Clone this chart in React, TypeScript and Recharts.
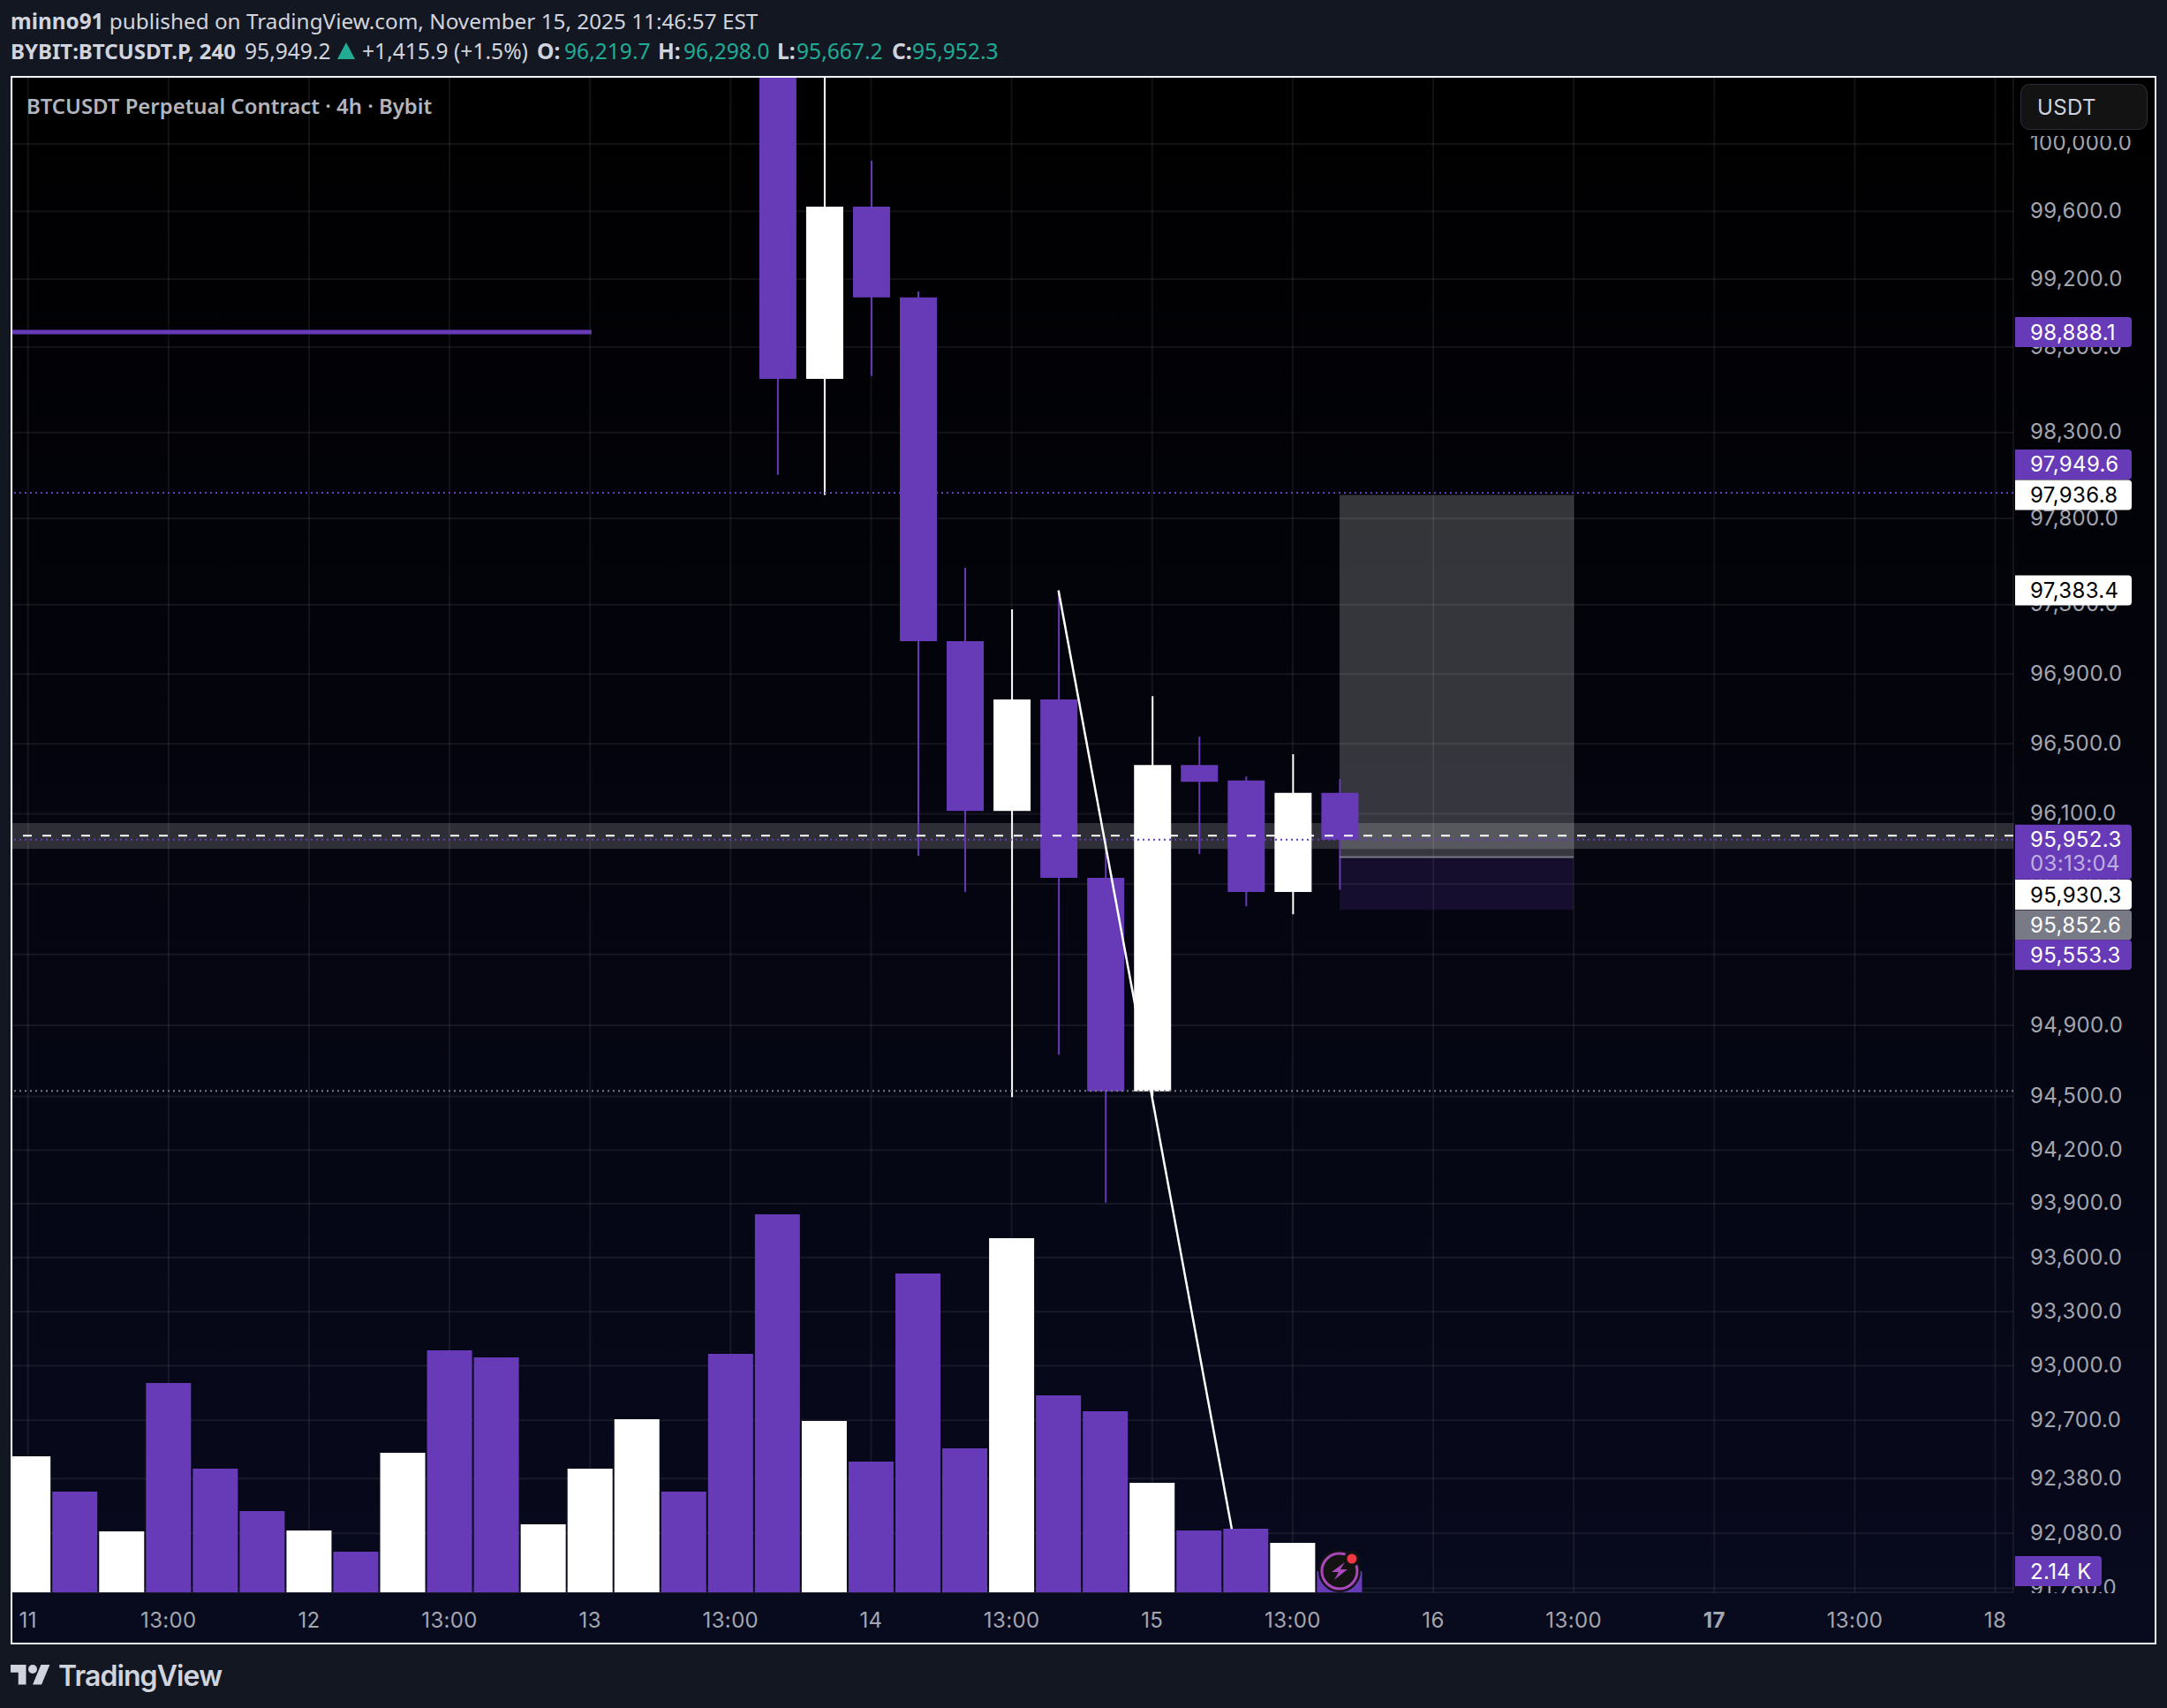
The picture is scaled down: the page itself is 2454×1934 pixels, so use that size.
import React from 'react';
import { ComposedChart, Bar, Cell, XAxis, YAxis, CartesianGrid, ReferenceLine, ReferenceArea, ReferenceDot } from 'recharts';

// ---- data ----
const volumes = [13.74, 10.17, 6.16, 21.14, 12.49, 8.21, 6.24, 4.10, 14.09, 24.44, 23.73, 6.87, 12.49, 17.48, 10.17, 24.09, 38.18, 17.3, 13.2, 32.2, 14.54, 35.77, 19.9, 18.29, 11.06, 6.24, 6.42, 5.0, 2.14];
const volumeUp = [1, 0, 1, 0, 0, 0, 1, 0, 1, 0, 0, 1, 1, 1, 0, 0, 0, 1, 0, 0, 0, 1, 0, 0, 1, 0, 0, 1, 0];

const firstCandle = 16;
const opens = [101500, 98614, 99628, 99092, 97090, 96116, 96754, 95735, 94529, 96379, 96290, 95654, 96219.7];
const closes = [98614, 99628, 99092, 97090, 96116, 96754, 95735, 94529, 96379, 96283, 95654, 96219.7, 95952.3];
const highs = [102000, 100800, 99900, 99127, 97514, 97274, 97383.4, 95955, 96774, 96541, 96313, 96440, 96298.0];
const lows = [98053, 97936.8, 98631, 95860, 95654, 94497, 94735, 93906, 94500, 95870, 95573, 95528, 95667.2];

const priceTicks = [100000, 99600, 99200, 98800, 98300, 97800, 97300, 96900, 96500, 96100, 95700, 95300, 94900, 94500, 94200, 93900, 93600, 93300, 93000, 92700, 92380, 92080, 91780];
const timeTicks = [0, 3, 6, 9, 12, 15, 18, 21, 24, 27, 30, 33, 36, 39, 42];
const timeLabels = ['11', '13:00', '12', '13:00', '13', '13:00', '14', '13:00', '15', '13:00', '16', '13:00', '17', '13:00', '18'];
const boldTimeLabels = ['17'];

const tagPrices = [98888.1, 97949.6, 97936.8, 97383.4, 95930.3, 95852.6, 95553.3];
const tagFills = ['#673ab7', '#673ab7', '#ffffff', '#ffffff', '#ffffff', '#787b86', '#673ab7'];
const tagInk = ['#ffffff', '#ffffff', '#000000', '#000000', '#000000', '#ffffff', '#ffffff'];
const tagShift = [0, -32, 0, 0, 58, 77, 51];

const lastPrice = 95952.3;
const countdown = '03:13:04';
const lastVolume = 2.14;
const lastVolumeLabel = '2.14 K';
const bandHigh = 96047;
const bandMid = 95975;
const bandLow = 95900;
const lowDotted = 94531;
const resistance = 98888.1;
const resistanceEnd = 12.03;
const entryDotted = 97949.6;
const boxStart = 28;
const boxEnd = 33;
const boxTop = 97936.8;
const boxMid = 95852.6;
const boxBottom = 95553.3;
const diagonal = [{ x: 22, y: 97383.4 }, { x: 25.7, y: 92104 }];

// ---- palette / geometry ----
const PURPLE = '#673ab7';
const WHITE = '#ffffff';
const W = 2454;
const H = 1934;
const X_DOMAIN: [number, number] = [-0.3337, 42.386];
const Y_DOMAIN: [number, number] = [91757.9, 100393.6];
const VOL_DOMAIN: [number, number] = [0, 153];
const FONT = 'Inter, sans-serif';
const HEAD = '"Noto Sans", sans-serif';
const TAG_X = 2282;
const TAG_W = 132;
const TRACK = 0.35;

const rows = volumes.map((v, i) => {
  const k = i - firstCandle;
  const has = k >= 0 && k < opens.length;
  return {
    x: i,
    vol: v,
    volUp: volumeUp[i] === 1,
    body: has ? [Math.min(opens[k], closes[k]), Math.max(opens[k], closes[k])] : null,
    wick: has ? [lows[k], highs[k]] : null,
    up: has ? closes[k] > opens[k] : false,
  };
});

const tagPath = (x: number, y: number, w: number, h: number, r = 4) =>
  `M${x} ${y}H${x + w - r}Q${x + w} ${y} ${x + w} ${y + r}V${y + h - r}Q${x + w} ${y + h} ${x + w - r} ${y + h}H${x}Z`;

const Tag = ({ y, fill, ink, text, shift }: any) => {
  const cy = y + shift;
  return (
    <g>
      <path d={tagPath(TAG_X, cy - 17, TAG_W, 34)} fill={fill} />
      <text x={2299} y={cy} fill={ink} fontFamily={FONT} fontSize={24} letterSpacing={TRACK} dominantBaseline="central">{text}</text>
    </g>
  );
};

const fmt = (v: number) => v.toLocaleString('en-US', { minimumFractionDigits: 1, maximumFractionDigits: 1 });

const XTick = ({ x, index }: any) => {
  const label = timeLabels[index] ?? '';
  return (
    <text x={x} y={1834} textAnchor="middle" dominantBaseline="central" fill="#a3a6af" fontFamily={FONT} fontSize={24} letterSpacing={TRACK} fontWeight={boldTimeLabels.includes(label) ? 700 : 400}>
      {label}
    </text>
  );
};

const YTick = ({ y, payload }: any) => (
  <text x={2299} y={y - 1} dominantBaseline="central" fill="#a3a6af" fontFamily={FONT} fontSize={24} letterSpacing={TRACK}>
    {fmt(payload.value)}
  </text>
);

const Bolt = ({ cx, cy }: any) => (
  <g>
    <circle cx={cx} cy={cy} r={24} fill="#131313" />
    <circle cx={cx} cy={cy} r={20} fill="#131313" stroke="#ab47bc" strokeWidth={3} />
    <path d={`M${cx + 6} ${cy - 10}L${cx - 9} ${cy + 1}H${cx - 1}L${cx - 6} ${cy + 10}L${cx + 9} ${cy - 2}H${cx + 1}Z`} fill="#ab47bc" />
    <circle cx={cx + 14} cy={cy - 14} r={9} fill="#131313" />
    <circle cx={cx + 14} cy={cy - 14} r={5.5} fill="#f23645" />
  </g>
);

const abs = (left: number, top: number, extra: any = {}): any => ({ position: 'absolute', left, top, whiteSpace: 'nowrap', ...extra });

const TAG_Z = 5000;

export default function App() {
  const line1 = { fontFamily: HEAD, color: '#d1d4dc', fontSize: 24.3 };
  const line2 = { fontFamily: HEAD, color: '#d1d4dc', fontSize: 24.6 };
  const teal = { ...line2, color: '#22ab94' };
  const TOP2 = 41;
  return (
    <div style={{ position: 'absolute', left: 0, top: 0, width: W, height: H, background: '#131722', overflow: 'hidden' }}>
      <div style={abs(12, 86, { width: 2426, height: 1772, border: '2px solid #f0f3fa', background: 'linear-gradient(180deg,#000000 0%,#04050f 50%,#080a1e 100%)' })} />

      <div style={abs(12, 7, line1)}>
        <b>minno91</b> published on TradingView.com, November 15, 2025 11:46:57 EST
      </div>
      <div style={abs(12, TOP2, { ...line2, fontSize: 24 })}><b>BYBIT:BTCUSDT.P, 240</b></div>
      <div style={abs(277, TOP2, line2)}>95,949.2</div>
      <svg style={abs(382, 48)} width={20} height={19}><polygon points="10,0 20,19 0,19" fill="#22ab94" /></svg>
      <div style={abs(410, TOP2, line2)}>+1,415.9 (+1.5%)</div>
      <div style={abs(608, TOP2, line2)}><b>O:</b></div>
      <div style={abs(639, TOP2, teal)}>96,219.7</div>
      <div style={abs(745, TOP2, line2)}><b>H:</b></div>
      <div style={abs(774, TOP2, teal)}>96,298.0</div>
      <div style={abs(880, TOP2, line2)}><b>L:</b></div>
      <div style={abs(902, TOP2, teal)}>95,667.2</div>
      <div style={abs(1010, TOP2, line2)}><b>C:</b></div>
      <div style={abs(1033, TOP2, teal)}>95,952.3</div>

      <div style={{ position: 'absolute', left: 0, top: 0 }}>
        <ComposedChart width={W} height={H} data={rows} margin={{ top: 88, right: 14, bottom: 74, left: 14 }} barGap={0} barCategoryGap={0}>
          <XAxis xAxisId="main" dataKey="x" type="number" scale="linear" domain={X_DOMAIN} allowDataOverflow ticks={timeTicks} interval={0} height={57} axisLine={false} tickLine={false} tick={<XTick />} />
          <XAxis xAxisId="vol" dataKey="x" type="number" scale="linear" domain={X_DOMAIN} allowDataOverflow hide />
          <XAxis xAxisId="wick" dataKey="x" type="number" scale="linear" domain={X_DOMAIN} allowDataOverflow hide />
          <XAxis xAxisId="body" dataKey="x" type="number" scale="linear" domain={X_DOMAIN} allowDataOverflow hide />
          <YAxis yAxisId="price" orientation="right" scale="log" domain={Y_DOMAIN} allowDataOverflow ticks={priceTicks} interval={0} width={160} axisLine={false} tickLine={false} tick={<YTick />} />
          <YAxis yAxisId="volume" domain={VOL_DOMAIN} allowDataOverflow hide />

          <CartesianGrid xAxisId="main" yAxisId="price" stroke="#ffffff" strokeOpacity={0.07} strokeWidth={2} />

          <ReferenceArea xAxisId="main" yAxisId="price" y1={bandHigh} y2={bandLow} fill="#ffffff" fillOpacity={0.17} stroke="none" />
          <ReferenceArea xAxisId="main" yAxisId="price" x1={boxStart} x2={boxEnd} y1={boxTop} y2={boxMid} fill="#ffffff" fillOpacity={0.2} stroke="none" />
          <ReferenceArea xAxisId="main" yAxisId="price" x1={boxStart} x2={boxEnd} y1={boxMid} y2={boxBottom} fill={PURPLE} fillOpacity={0.18} stroke="none" />
          <ReferenceLine xAxisId="main" yAxisId="price" segment={[{ x: boxStart, y: boxMid }, { x: boxEnd, y: boxMid }]} stroke="#787b86" strokeWidth={2} />
          <ReferenceLine xAxisId="main" yAxisId="price" y={bandMid} stroke={WHITE} strokeWidth={2} strokeDasharray="10 12" />
          <ReferenceLine xAxisId="main" yAxisId="price" y={entryDotted} stroke={PURPLE} strokeWidth={2} strokeDasharray="2 4" />
          <ReferenceLine xAxisId="main" yAxisId="price" segment={[{ x: X_DOMAIN[0], y: resistance }, { x: resistanceEnd, y: resistance }]} stroke={PURPLE} strokeWidth={5} />
          <ReferenceLine xAxisId="main" yAxisId="price" segment={diagonal} stroke={WHITE} strokeWidth={2.5} />

          <Bar xAxisId="vol" yAxisId="volume" dataKey="vol" barSize={51} isAnimationActive={false}>
            {rows.map((r) => <Cell key={r.x} fill={r.volUp ? WHITE : PURPLE} />)}
          </Bar>
          <Bar xAxisId="wick" yAxisId="price" dataKey="wick" barSize={2} isAnimationActive={false}>
            {rows.map((r) => <Cell key={r.x} fill={r.up ? WHITE : PURPLE} />)}
          </Bar>
          <Bar xAxisId="body" yAxisId="price" dataKey="body" barSize={42} isAnimationActive={false}>
            {rows.map((r) => <Cell key={r.x} fill={r.up ? WHITE : PURPLE} />)}
          </Bar>

          <ReferenceLine xAxisId="main" yAxisId="price" y={lowDotted} stroke="#787b86" strokeWidth={2} strokeDasharray="2 4" />
          <ReferenceLine xAxisId="main" yAxisId="price" y={lastPrice} stroke={PURPLE} strokeWidth={2} strokeDasharray="2 4" />

          {tagPrices.map((p, i) => (
            <ReferenceLine
              key={p}
              xAxisId="main"
              yAxisId="price"
              y={p}
              zIndex={TAG_Z}
              shape={(s: any) => <Tag y={s.y1} fill={tagFills[i]} ink={tagInk[i]} text={fmt(p)} shift={tagShift[i]} />}
            />
          ))}
          <ReferenceLine
            xAxisId="main"
            yAxisId="price"
            y={lastPrice}
            zIndex={TAG_Z}
            shape={(s: any) => (
              <g>
                <path d={tagPath(TAG_X, s.y1 - 17, TAG_W, 62)} fill={PURPLE} />
                <text x={2299} y={s.y1} fill="#ffffff" fontFamily={FONT} fontSize={24} letterSpacing={TRACK} dominantBaseline="central">{fmt(lastPrice)}</text>
                <text x={2299} y={s.y1 + 27} fill="#ffffff" fillOpacity={0.6} fontFamily={FONT} fontSize={24} letterSpacing={TRACK} dominantBaseline="central">{countdown}</text>
              </g>
            )}
          />
          <ReferenceLine
            xAxisId="main"
            yAxisId="volume"
            y={lastVolume}
            zIndex={TAG_Z}
            shape={(s: any) => (
              <g>
                <path d={tagPath(TAG_X, s.y1 - 17, 98, 34)} fill={PURPLE} />
                <text x={2299} y={s.y1} fill="#ffffff" fontFamily={FONT} fontSize={24} letterSpacing={TRACK} dominantBaseline="central">{lastVolumeLabel}</text>
              </g>
            )}
          />
          <ReferenceDot xAxisId="main" yAxisId="volume" x={boxStart} y={lastVolume} shape={<Bolt />} zIndex={TAG_Z} />
        </ComposedChart>
      </div>

      <div style={abs(2281, 1804, { width: 159, height: 56, background: '#080a1e' })} />
      <div style={abs(2281, 88, { width: 159, height: 66, background: '#000000' })} />
      <div style={abs(2288, 95, { width: 144, height: 52, boxSizing: 'border-box', background: '#131313', border: '1px solid #2a2e39', borderRadius: 10, color: '#d1d4dc', fontFamily: FONT, fontSize: 24, letterSpacing: TRACK, lineHeight: '52px', paddingLeft: 18 })}>USDT</div>
      <div style={abs(30, 103, { fontFamily: HEAD, fontWeight: 600, fontSize: 23.9, color: '#b2b5be' })}>BTCUSDT Perpetual Contract · 4h · Bybit</div>

      <svg style={abs(12, 1880)} width={45} height={35} viewBox="0 0 36 28">
        <path d="M14 22H7V11H0V4h14v18zM28 22h-8l7.5-18h8L28 22z" fill="#d1d4dc" />
        <circle cx="20" cy="8" r="4" fill="#d1d4dc" />
      </svg>
      <div style={abs(66, 1878, { fontFamily: FONT, fontWeight: 600, fontSize: 32, letterSpacing: -0.9, color: '#d1d4dc' })}>TradingView</div>
    </div>
  );
}
